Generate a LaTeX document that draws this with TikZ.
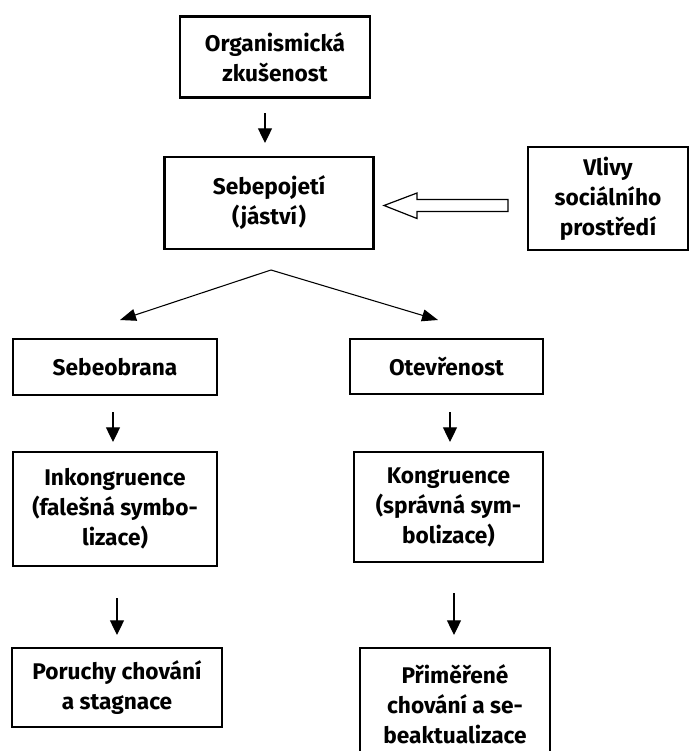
\documentclass[tikz,border=0pt]{standalone}
\usepackage{fontspec}
\setmainfont{Fira Sans}
\usetikzlibrary{arrows.meta}
\begin{document}
\begin{tikzpicture}[x=0.75pt,y=-0.75pt,
  box/.style={draw,line width=1.9pt,align=center,inner sep=0pt,
    font=\fontsize{17}{22.5}\selectfont\bfseries},
  flow/.style={line width=0.9pt,-{Triangle[length=11pt,width=10.5pt]}},
  split/.style={line width=0.8pt,-{Triangle[length=12pt,width=9pt]}}]
\useasboundingbox (0,0) rectangle (695,751);

% boxes
\node[box,minimum width=190*0.75pt,minimum height=81*0.75pt] (org) at (275,57) {Organismická\\zkušenost};
\node[box,minimum width=209*0.75pt,minimum height=92*0.75pt] (self) at (269,203) {Sebepojetí\\(jáství)};
\node[box,minimum width=160*0.75pt,minimum height=103*0.75pt] (soc) at (608,198.5) {Vlivy\\sociálního\\prostředí};
\node[box,minimum width=204*0.75pt,minimum height=56*0.75pt] (def) at (115,367) {Sebeobrana};
\node[box,minimum width=193*0.75pt,minimum height=55*0.75pt] (open) at (446.5,366.5) {Otevřenost};
\node[box,minimum width=204*0.75pt,minimum height=114*0.75pt] (inc) at (115,509) {Inkongruence\\(falešná symbo-\\lizace)};
\node[box,minimum width=189*0.75pt,minimum height=110*0.75pt] (con) at (448.5,507) {Kongruence\\(správná sym-\\bolizace)};
\node[box,minimum width=210*0.75pt,minimum height=79*0.75pt] (dis) at (117,687.5) {Poruchy chování\\a stagnace};
\node[box,minimum width=190*0.75pt,minimum height=112*0.75pt,text depth=0pt] (act) at (455,704) {Přiměřené\\chování a se-\\beaktualizace};

% arrow end points (the arrows stop short of the boxes)
\coordinate (a1s) at (265,113);  \coordinate (a1e) at (265,143);
\coordinate (top) at (271,270);
\coordinate (lt) at (120,320);   \coordinate (rt) at (438,320);
\coordinate (a2ls) at (113,412); \coordinate (a2le) at (113,442);
\coordinate (a2rs) at (450,412); \coordinate (a2re) at (450,442);
\coordinate (a3ls) at (117,598); \coordinate (a3le) at (117,635);
\coordinate (a3rs) at (454,593); \coordinate (a3re) at (454,635);

\draw[flow] (a1s) -- (a1e);
\draw[split] (top) -- (lt);
\draw[split] (top) -- (rt);
\draw[flow] (a2ls) -- (a2le);
\draw[flow] (a2rs) -- (a2re);
\draw[flow] (a3ls) -- (a3le);
\draw[flow] (a3rs) -- (a3re);

% hollow block arrow from the social influences box
\draw[line width=0.9pt] (508,199.5) -- (417,199.5) -- (417,193) -- (384,205.5)
  -- (417,218.5) -- (417,211.5) -- (508,211.5) -- cycle;
\end{tikzpicture}
\end{document}
